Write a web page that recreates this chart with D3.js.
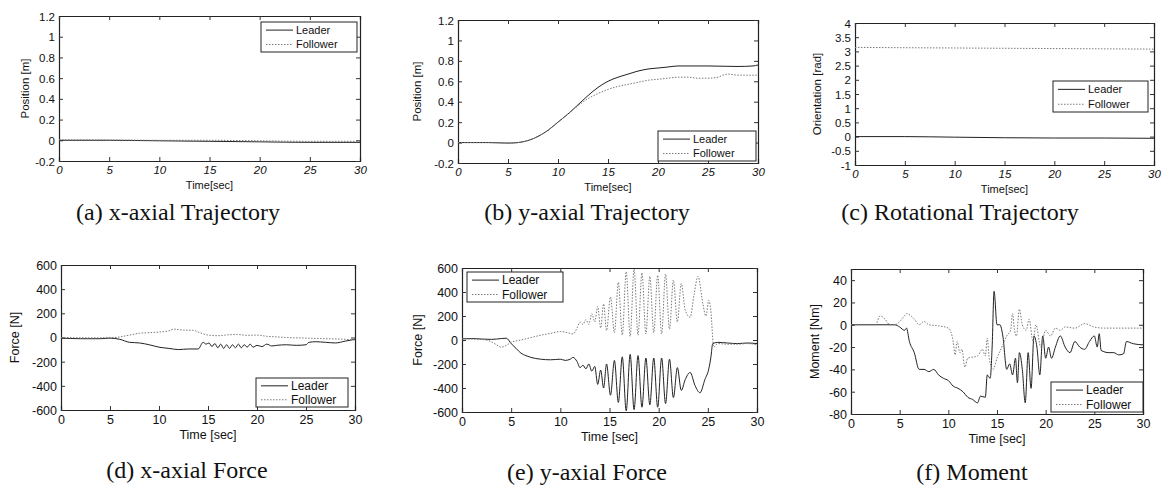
<!DOCTYPE html>
<html>
<head>
<meta charset="utf-8">
<script src="https://cdn.jsdelivr.net/npm/d3@7"></script>
<style>
  body { margin: 0; background: #fff; }
  svg text { font-family: "Liberation Sans", Arial, sans-serif; fill: #111; }
  svg text.cap { font-family: "Liberation Serif", "Times New Roman", serif; }
</style>
</head>
<body>
<svg id="fig" width="1163" height="495"></svg>
<script>
// values: [time (sec), value]
let xTrajLeader = [[0, 0], [5, 0], [10, -0.005], [15, -0.01], [20, -0.015], [25, -0.02], [30, -0.02]];
let xTrajFollower = [[0, 0.005], [5, 0.003], [10, 0], [15, 0], [20, -0.005], [25, -0.01], [30, -0.01]];

let yTrajLeader = [[0, 0], [3, 0], [5, -0.005], [6, 0], [7, 0.02], [8, 0.06], [9, 0.12], [10, 0.2], [11, 0.28],
  [12, 0.37], [13, 0.46], [14, 0.54], [15, 0.6], [16, 0.64], [17, 0.67], [18, 0.7], [19, 0.72], [20, 0.73],
  [21, 0.74], [22, 0.75], [25, 0.75], [28, 0.745], [29.5, 0.75], [30, 0.76]];
let yTrajFollower = [[0, 0], [3, 0], [5, -0.005], [6, 0], [7, 0.02], [8, 0.06], [9, 0.12], [10, 0.2], [11, 0.28],
  [12, 0.36], [13, 0.43], [14, 0.48], [15, 0.52], [16, 0.55], [17, 0.57], [18, 0.59], [19, 0.61], [20, 0.62],
  [21, 0.63], [22, 0.64], [23, 0.64], [24, 0.63], [25, 0.63], [26, 0.64], [26.5, 0.66], [27, 0.67], [28, 0.66], [30, 0.66]];

let rotLeader = [[0, 0], [5, 0], [10, -0.02], [15, -0.04], [20, -0.05], [25, -0.05], [30, -0.06]];
let rotFollower = [[0, 3.14], [5, 3.13], [10, 3.12], [15, 3.11], [20, 3.1], [25, 3.09], [30, 3.08]];

let xForceLeader = [[0, -5], [2, -10], [4, -10], [5, -5], [6, -15], [7, -40], [8, -45], [9, -60], [10, -80],
  [11, -90], [12, -100], [13, -95], [14, -95], [14.5, -40], [14.8, -55], [15.1, -45], [15.4, -75], [15.7, -50],
  [16, -85], [16.3, -55], [16.6, -90], [16.9, -60], [17.2, -90], [17.5, -60], [17.8, -85], [18.1, -55],
  [18.4, -85], [18.7, -60], [19, -80], [19.3, -55], [19.6, -80], [20, -65], [20.5, -75], [21, -55],
  [21.5, -70], [22, -65], [23, -60], [24, -65], [25, -60], [25.3, -40], [26, -35], [27, -40], [28, -45],
  [29, -30], [30, -15]];
let xForceFollower = [[0, 0], [3, -3], [5.5, 0], [6, 5], [7, 20], [8, 35], [9, 40], [10, 45], [11, 55],
  [11.5, 70], [12, 65], [13, 60], [13.5, 60], [14, 45], [15, 20], [16, 15], [17, 22], [18, 25], [19, 18],
  [20, 20], [21, 10], [22, 5], [23, 0], [25, -5], [27, -10], [29, -15], [30, -20]];

let yForceLeader = [[0, 10], [1, 12], [2, 8], [3, 5], [4, 12], [4.5, 15], [5, -30], [5.5, -70], [6, -110],
  [6.5, -130], [7, -145], [8, -160], [9, -165], [10, -160], [10.5, -170], [11, -160], [11.3, -145],
  [11.7, -180], [12, -230], [12.3, -210], [12.6, -240], [12.9, -200], [13.2, -260], [13.5, -220],
  [13.8, -370], [14.1, -250], [14.4, -400], [14.7, -200], [15.1, -460], [15.5, -170], [15.9, -520],
  [16.3, -140], [16.7, -590], [17.1, -120], [17.5, -580], [17.9, -130], [18.3, -560], [18.7, -150],
  [19.1, -540], [19.5, -150], [19.9, -560], [20.3, -150], [20.7, -530], [21.1, -160], [21.5, -480],
  [21.9, -230], [22.3, -420], [22.7, -330], [23.2, -270], [23.7, -380], [24.2, -440], [24.7, -330],
  [25.1, -240], [25.3, -150], [25.5, -30], [26, -20], [27, -25], [28, -30], [29, -25], [30, -30]];
let yForceFollower = [[0, 10], [1, 8], [2, 5], [3, -15], [3.5, -40], [4, -60], [4.5, -45], [5, -20], [6, 0],
  [7, 20], [8, 40], [9, 55], [10, 70], [10.5, 65], [11, 55], [11.3, 50], [11.7, 100], [12, 150], [12.3, 130],
  [12.6, 170], [12.9, 130], [13.2, 220], [13.5, 150], [13.8, 280], [14.1, 100], [14.4, 300], [14.7, 80],
  [15.1, 360], [15.5, 60], [15.9, 480], [16.3, 40], [16.7, 570], [17.1, 30], [17.5, 590], [17.9, 40],
  [18.3, 560], [18.7, 50], [19.1, 530], [19.5, 60], [19.9, 540], [20.3, 50], [20.7, 550], [21.1, 90],
  [21.5, 500], [21.9, 150], [22.3, 470], [22.7, 250], [23.2, 190], [23.6, 380], [24, 530], [24.5, 300],
  [24.8, 200], [25.1, 330], [25.3, 250], [25.6, -60], [26, -30], [27, -35], [28, -35], [29, -30], [30, -40]];

let momentLeader = [[0, 0], [4.5, 0], [5, -2], [5.5, -5], [5.7, -3], [6, -15], [6.5, -25], [7, -40], [7.5, -40],
  [8, -42], [8.5, -40], [9, -45], [9.5, -48], [10, -50], [10.5, -55], [11, -57], [11.5, -60], [12, -65],
  [12.5, -67], [13, -70], [13.3, -64], [13.8, -65], [14, -45], [14.3, -48], [14.5, -20], [14.7, 30], [15, 0],
  [15.3, 0], [15.6, -10], [16, -40], [16.3, -35], [16.6, -45], [16.9, -30], [17.1, -52], [17.3, -25],
  [17.6, -40], [17.9, -70], [18.2, -25], [18.5, -57], [18.8, -10], [19.1, -20], [19.4, -45], [19.7, -10],
  [20, -30], [20.3, -20], [20.6, -30], [21, -20], [21.5, -10], [22, -20], [22.5, -25], [23, -15], [23.5, -20],
  [24, -22], [24.5, -15], [25, -10], [25.3, -20], [25.5, -8], [25.7, -23], [26.5, -25], [27, -25],
  [27.5, -27], [28, -26], [28.3, -15], [29, -17], [30, -18]];
let momentFollower = [[0, 0], [2.5, 0], [3, 8], [3.5, 5], [4, 0], [4.5, 0], [5.5, 8], [5.7, 10], [6.5, 5],
  [7, 0], [7.5, 3], [8, 0], [9, -1], [10, -3], [10.5, -15], [10.7, -27], [10.9, -15], [11.2, -25],
  [11.4, -22], [11.7, -38], [12, -30], [13, -28], [13.5, -22], [13.8, -28], [14, -12], [14.2, -30],
  [14.6, -40], [15, -30], [15.5, -20], [16, -10], [16.4, -5], [16.6, 10], [16.8, -5], [17, -10], [17.3, 14],
  [17.6, 0], [18, -5], [18.3, 5], [18.7, -15], [19, 0], [19.5, -20], [20, -5], [20.5, -10], [21, -3],
  [21.5, -5], [22, -2], [23, -3], [24, 1], [25, -2], [26, -3], [28, -3], [30, -3]];

let timeTicks = [0, 5, 10, 15, 20, 25, 30];
let posTicks = [-0.2, 0, 0.2, 0.4, 0.6, 0.8, 1, 1.2];
let rotTicks = [-1, -0.5, 0, 0.5, 1, 1.5, 2, 2.5, 3, 3.5, 4];
let forceTicks = [-600, -400, -200, 0, 200, 400, 600];
let momentTicks = [-80, -60, -40, -20, 0, 20, 40];
let seriesNames = ['Leader', 'Follower'];

let panels = [
  { box: [59, 16, 360, 161], dom: [-0.2, 1.2], ticks: posTicks, ylab: 'Position [m]', ylabX: 25,
    xlab: 'Time[sec]', top: true, data: [xTrajLeader, xTrajFollower], leg: [261, 22, 96, 30],
    cap: '(a) x-axial Trajectory', capX: 178, capY: 220 },
  { box: [458, 20, 758, 163], dom: [-0.2, 1.2], ticks: posTicks, ylab: 'Position [m]', ylabX: 417,
    xlab: 'Time[sec]', top: true, data: [yTrajLeader, yTrajFollower], leg: [658, 131, 98, 30],
    cap: '(b) y-axial Trajectory', capX: 587, capY: 220 },
  { box: [855, 23, 1154, 165], dom: [-1, 4], ticks: rotTicks, ylab: 'Orientation [rad]', ylabX: 817,
    xlab: 'Time[sec]', top: true, data: [rotLeader, rotFollower], leg: [1053, 81, 95, 31],
    cap: '(c) Rotational Trajectory', capX: 960, capY: 220 },
  { box: [61, 265, 355, 410], dom: [-600, 600], ticks: forceTicks, ylab: 'Force [N]', ylabX: 15,
    xlab: 'Time [sec]', top: false, data: [xForceLeader, xForceFollower], leg: [256, 378, 92, 29],
    cap: '(d) x-axial Force', capX: 187, capY: 478 },
  { box: [462, 268, 757, 412], dom: [-600, 600], ticks: forceTicks, ylab: 'Force [N]', ylabX: 418,
    xlab: 'Time [sec]', top: false, data: [yForceLeader, yForceFollower], leg: [467, 272, 96, 30],
    cap: '(e) y-axial Force', capX: 587, capY: 480 },
  { box: [851, 269, 1143, 414], dom: [-80, 50], ticks: momentTicks, ylab: 'Moment [Nm]', ylabX: 815,
    xlab: 'Time [sec]', top: false, data: [momentLeader, momentFollower], leg: [1051, 382, 92, 30],
    cap: '(f) Moment', capX: 972, capY: 480 }
];

let svg = d3.select('#fig');
let fmt = v => String(+v.toFixed(2));
let styles = [
  { stroke: '#222', width: 1, dash: null },
  { stroke: '#7a7a7a', width: 1, dash: '1.5,1.5' }
];

panels.forEach(p => {
  let [x0, y0, x1, y1] = p.box;
  let x = d3.scaleLinear().domain([0, 30]).range([x0, x1]);
  let y = d3.scaleLinear().domain(p.dom).range([y1, y0]);
  let fs = p.top ? 11.5 : 12.5;
  let g = svg.append('g');

  // axes with inward ticks, MATLAB style box
  let ax = g.append('g').attr('transform', `translate(0,${y1})`)
    .call(d3.axisBottom(x).tickValues(timeTicks).tickSize(-4).tickPadding(5).tickFormat(d3.format('d')));
  let ay = g.append('g').attr('transform', `translate(${x0},0)`)
    .call(d3.axisLeft(y).tickValues(p.ticks).tickSize(-4).tickPadding(4).tickFormat(fmt));
  g.append('g').attr('transform', `translate(0,${y0})`)
    .call(d3.axisTop(x).tickValues(timeTicks).tickSize(-4).tickFormat(''));
  g.append('g').attr('transform', `translate(${x1},0)`)
    .call(d3.axisRight(y).tickValues(p.ticks).tickSize(-4).tickFormat(''));
  g.selectAll('.domain').attr('stroke', '#222').attr('stroke-width', 1.2);
  g.selectAll('.tick line').attr('stroke', '#333');
  g.selectAll('.tick text').attr('font-family', '"Liberation Sans", Arial, sans-serif')
    .attr('font-size', fs).attr('fill', '#111');
  if (p.top) ax.selectAll('.tick text').attr('font-style', 'italic');
  ay.selectAll('.tick text').attr('dy', '0.35em');

  // series lines
  let line = d3.line().x(d => x(d[0])).y(d => y(d[1])).curve(d3.curveMonotoneX);
  p.data.forEach((s, i) => {
    g.append('path').datum(s).attr('d', line).attr('fill', 'none')
      .attr('stroke', styles[i].stroke).attr('stroke-width', styles[i].width)
      .attr('stroke-dasharray', styles[i].dash);
  });

  // axis labels
  g.append('text').attr('x', (x0 + x1) / 2).attr('y', y1 + (p.top ? 28 : 29))
    .attr('text-anchor', 'middle').attr('font-size', p.top ? 11 : 12.5).text(p.xlab);
  g.append('text').attr('transform', `translate(${p.ylabX},${(y0 + y1) / 2}) rotate(-90)`)
    .attr('text-anchor', 'middle').attr('dy', '0.35em').attr('font-size', p.top ? 11.5 : 12.5).text(p.ylab);

  // legend
  let [lx, ly, lw, lh] = p.leg;
  let lg = g.append('g');
  lg.append('rect').attr('x', lx).attr('y', ly).attr('width', lw).attr('height', lh)
    .attr('fill', '#fff').attr('stroke', '#222').attr('stroke-width', 1);
  seriesNames.forEach((n, i) => {
    let ry = ly + lh * (0.27 + 0.48 * i);
    lg.append('line').attr('x1', lx + 5).attr('x2', lx + 32).attr('y1', ry).attr('y2', ry)
      .attr('stroke', styles[i].stroke).attr('stroke-width', styles[i].width)
      .attr('stroke-dasharray', styles[i].dash);
    lg.append('text').attr('x', lx + 35).attr('y', ry).attr('dy', '0.35em')
      .attr('font-size', p.top ? 11 : 12).text(n);
  });

  // caption under the plot
  svg.append('text').attr('class', 'cap').attr('x', p.capX).attr('y', p.capY)
    .attr('text-anchor', 'middle').attr('font-size', 24).text(p.cap);
});
</script>
</body>
</html>
